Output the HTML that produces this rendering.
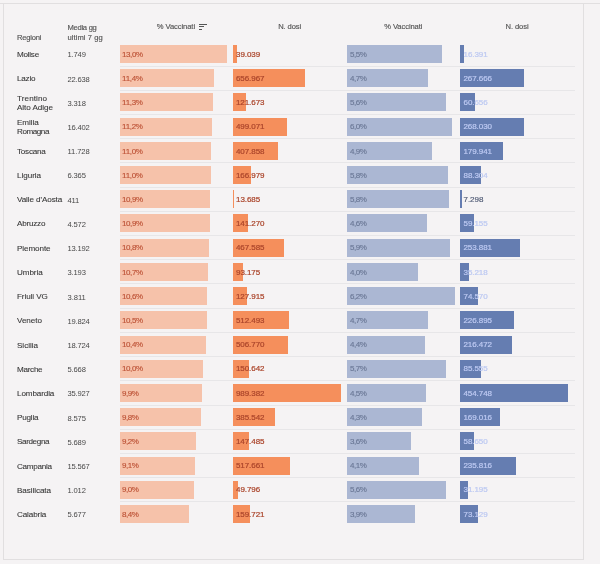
<!DOCTYPE html>
<html><head><meta charset="utf-8"><title>Vaccinazioni per regione</title>
<style>
html,body{margin:0;padding:0}
body{width:600px;height:564px;background:#f5f3f4;position:relative;overflow:hidden;font-family:"Liberation Sans",sans-serif;}
.frame{position:absolute;left:3px;top:3px;width:581px;height:557px;border:1px solid #e1dfe0;box-sizing:border-box}
.topline{position:absolute;left:0;top:3px;width:600px;height:1px;background:#e1dfe0}
.t{position:absolute;white-space:nowrap;line-height:10px;}
.h{font-size:7.6px;color:#555;-webkit-text-stroke:0.15px #555}
.r{font-size:8.1px;color:#383838;-webkit-text-stroke:0.1px #383838}
.m{font-size:7.6px;color:#484848}
.l{font-size:8.0px;}
.b{position:absolute;height:18.0px}
.b1{background:#f6c2aa}.b2{background:#f58f5c}.b3{background:#abb7d3}.b4{background:#657db1}
.l1{color:#bd5236;-webkit-text-stroke:0.15px #bd5236}.l2{color:#ab452b;-webkit-text-stroke:0.22px #ab452b}.l3{color:#6b7896;-webkit-text-stroke:0.15px #6b7896}.l4{color:#bdc9f2;-webkit-text-stroke:0.22px #bdc9f2}.l4d{color:#4d5873;-webkit-text-stroke:0.15px #4d5873}
.s{position:absolute;left:119.5px;width:455.5px;height:1px;background:#e7e6e8}
.ic{position:absolute;background:#555;height:1px}
</style></head><body>
<div class="frame"></div><div class="topline"></div>

<div class="s" style="top:65.60px"></div>
<div class="s" style="top:89.81px"></div>
<div class="s" style="top:114.02px"></div>
<div class="s" style="top:138.23px"></div>
<div class="s" style="top:162.44px"></div>
<div class="s" style="top:186.65px"></div>
<div class="s" style="top:210.86px"></div>
<div class="s" style="top:235.07px"></div>
<div class="s" style="top:259.28px"></div>
<div class="s" style="top:283.49px"></div>
<div class="s" style="top:307.70px"></div>
<div class="s" style="top:331.91px"></div>
<div class="s" style="top:356.12px"></div>
<div class="s" style="top:380.33px"></div>
<div class="s" style="top:404.54px"></div>
<div class="s" style="top:428.75px"></div>
<div class="s" style="top:452.96px"></div>
<div class="s" style="top:477.17px"></div>
<div class="s" style="top:501.38px"></div>
<div class="b b1" style="left:120.0px;top:45.00px;width:107.25px"></div>
<div class="b b2" style="left:233.0px;top:45.00px;width:4.26px"></div>
<div class="b b3" style="left:347.0px;top:45.00px;width:94.75px"></div>
<div class="b b4" style="left:460.3px;top:45.00px;width:3.88px"></div>
<div class="b b1" style="left:120.0px;top:69.21px;width:94.05px"></div>
<div class="b b2" style="left:233.0px;top:69.21px;width:71.71px"></div>
<div class="b b3" style="left:347.0px;top:69.21px;width:80.75px"></div>
<div class="b b4" style="left:460.3px;top:69.21px;width:63.42px"></div>
<div class="b b1" style="left:120.0px;top:93.42px;width:93.23px"></div>
<div class="b b2" style="left:233.0px;top:93.42px;width:13.28px"></div>
<div class="b b3" style="left:347.0px;top:93.42px;width:98.50px"></div>
<div class="b b4" style="left:460.3px;top:93.42px;width:14.37px"></div>
<div class="b b1" style="left:120.0px;top:117.63px;width:92.40px"></div>
<div class="b b2" style="left:233.0px;top:117.63px;width:54.48px"></div>
<div class="b b3" style="left:347.0px;top:117.63px;width:104.75px"></div>
<div class="b b4" style="left:460.3px;top:117.63px;width:63.51px"></div>
<div class="b b1" style="left:120.0px;top:141.84px;width:90.75px"></div>
<div class="b b2" style="left:233.0px;top:141.84px;width:44.52px"></div>
<div class="b b3" style="left:347.0px;top:141.84px;width:85.00px"></div>
<div class="b b4" style="left:460.3px;top:141.84px;width:42.64px"></div>
<div class="b b1" style="left:120.0px;top:166.05px;width:90.75px"></div>
<div class="b b2" style="left:233.0px;top:166.05px;width:18.23px"></div>
<div class="b b3" style="left:347.0px;top:166.05px;width:101.25px"></div>
<div class="b b4" style="left:460.3px;top:166.05px;width:20.92px"></div>
<div class="b b1" style="left:120.0px;top:190.26px;width:89.92px"></div>
<div class="b b2" style="left:233.0px;top:190.26px;width:1.49px"></div>
<div class="b b3" style="left:347.0px;top:190.26px;width:102.25px"></div>
<div class="b b4" style="left:460.3px;top:190.26px;width:1.73px"></div>
<div class="b b1" style="left:120.0px;top:214.47px;width:89.92px"></div>
<div class="b b2" style="left:233.0px;top:214.47px;width:15.42px"></div>
<div class="b b3" style="left:347.0px;top:214.47px;width:79.50px"></div>
<div class="b b4" style="left:460.3px;top:214.47px;width:14.02px"></div>
<div class="b b1" style="left:120.0px;top:238.68px;width:89.10px"></div>
<div class="b b2" style="left:233.0px;top:238.68px;width:51.04px"></div>
<div class="b b3" style="left:347.0px;top:238.68px;width:103.00px"></div>
<div class="b b4" style="left:460.3px;top:238.68px;width:60.16px"></div>
<div class="b b1" style="left:120.0px;top:262.89px;width:88.27px"></div>
<div class="b b2" style="left:233.0px;top:262.89px;width:10.17px"></div>
<div class="b b3" style="left:347.0px;top:262.89px;width:70.50px"></div>
<div class="b b4" style="left:460.3px;top:262.89px;width:8.34px"></div>
<div class="b b1" style="left:120.0px;top:287.10px;width:87.45px"></div>
<div class="b b2" style="left:233.0px;top:287.10px;width:13.96px"></div>
<div class="b b3" style="left:347.0px;top:287.10px;width:108.00px"></div>
<div class="b b4" style="left:460.3px;top:287.10px;width:17.67px"></div>
<div class="b b1" style="left:120.0px;top:311.31px;width:86.62px"></div>
<div class="b b2" style="left:233.0px;top:311.31px;width:55.94px"></div>
<div class="b b3" style="left:347.0px;top:311.31px;width:81.00px"></div>
<div class="b b4" style="left:460.3px;top:311.31px;width:53.76px"></div>
<div class="b b1" style="left:120.0px;top:335.52px;width:85.80px"></div>
<div class="b b2" style="left:233.0px;top:335.52px;width:55.32px"></div>
<div class="b b3" style="left:347.0px;top:335.52px;width:77.50px"></div>
<div class="b b4" style="left:460.3px;top:335.52px;width:51.29px"></div>
<div class="b b1" style="left:120.0px;top:359.73px;width:82.50px"></div>
<div class="b b2" style="left:233.0px;top:359.73px;width:16.44px"></div>
<div class="b b3" style="left:347.0px;top:359.73px;width:99.25px"></div>
<div class="b b4" style="left:460.3px;top:359.73px;width:20.27px"></div>
<div class="b b1" style="left:120.0px;top:383.94px;width:81.67px"></div>
<div class="b b2" style="left:233.0px;top:383.94px;width:108.00px"></div>
<div class="b b3" style="left:347.0px;top:383.94px;width:79.00px"></div>
<div class="b b4" style="left:460.3px;top:383.94px;width:107.75px"></div>
<div class="b b1" style="left:120.0px;top:408.15px;width:80.85px"></div>
<div class="b b2" style="left:233.0px;top:408.15px;width:42.09px"></div>
<div class="b b3" style="left:347.0px;top:408.15px;width:74.75px"></div>
<div class="b b4" style="left:460.3px;top:408.15px;width:40.05px"></div>
<div class="b b1" style="left:120.0px;top:432.36px;width:75.90px"></div>
<div class="b b2" style="left:233.0px;top:432.36px;width:16.10px"></div>
<div class="b b3" style="left:347.0px;top:432.36px;width:63.50px"></div>
<div class="b b4" style="left:460.3px;top:432.36px;width:13.90px"></div>
<div class="b b1" style="left:120.0px;top:456.57px;width:75.08px"></div>
<div class="b b2" style="left:233.0px;top:456.57px;width:56.51px"></div>
<div class="b b3" style="left:347.0px;top:456.57px;width:72.00px"></div>
<div class="b b4" style="left:460.3px;top:456.57px;width:55.88px"></div>
<div class="b b1" style="left:120.0px;top:480.78px;width:74.25px"></div>
<div class="b b2" style="left:233.0px;top:480.78px;width:5.44px"></div>
<div class="b b3" style="left:347.0px;top:480.78px;width:98.50px"></div>
<div class="b b4" style="left:460.3px;top:480.78px;width:7.39px"></div>
<div class="b b1" style="left:120.0px;top:504.99px;width:69.30px"></div>
<div class="b b2" style="left:233.0px;top:504.99px;width:17.43px"></div>
<div class="b b3" style="left:347.0px;top:504.99px;width:67.75px"></div>
<div class="b b4" style="left:460.3px;top:504.99px;width:17.33px"></div>
<div class="ic" style="left:199px;top:23.5px;width:8px"></div>
<div class="ic" style="left:199px;top:26.3px;width:5.2px"></div>
<div class="ic" style="left:199px;top:29.1px;width:2.6px"></div>
<div class="t h" style="left:17px;top:32.60px;letter-spacing:-0.209px">Regioni</div>
<div class="t h" style="left:67.5px;top:22.80px;letter-spacing:-0.273px">Media gg</div>
<div class="t h" style="left:67.5px;top:32.60px;letter-spacing:0.061px">ultimi 7 gg</div>
<div class="t h" style="left:156.8px;top:21.80px;letter-spacing:-0.082px">% Vaccinati</div>
<div class="t h" style="left:278.2px;top:21.80px;letter-spacing:-0.110px">N. dosi</div>
<div class="t h" style="left:384.2px;top:21.80px;letter-spacing:-0.082px">% Vaccinati</div>
<div class="t h" style="left:505.6px;top:21.80px;letter-spacing:-0.110px">N. dosi</div>
<div class="t r" style="left:17px;top:50.00px;letter-spacing:-0.243px">Molise</div>
<div class="t m" style="left:67.5px;top:50.40px;letter-spacing:-0.155px">1.749</div>
<div class="t l l1" style="left:122.1px;top:49.70px;letter-spacing:-0.434px">13,0%</div>
<div class="t l l2" style="left:236.0px;top:49.70px;letter-spacing:-0.056px">39.039</div>
<div class="t l l3" style="left:350.0px;top:49.70px;letter-spacing:-0.488px">5,5%</div>
<div class="t l l4" style="left:463.5px;top:49.70px;letter-spacing:-0.056px">16.391</div>
<div class="t r" style="left:17px;top:74.21px;letter-spacing:-0.192px">Lazio</div>
<div class="t m" style="left:67.5px;top:74.61px;letter-spacing:-0.187px">22.638</div>
<div class="t l l1" style="left:122.1px;top:73.91px;letter-spacing:-0.315px">11,4%</div>
<div class="t l l2" style="left:236.0px;top:73.91px;letter-spacing:-0.078px">656.967</div>
<div class="t l l3" style="left:350.0px;top:73.91px;letter-spacing:-0.488px">4,7%</div>
<div class="t l l4" style="left:463.5px;top:73.91px;letter-spacing:-0.078px">267.666</div>
<div class="t r" style="left:17px;top:94.02px;letter-spacing:0.103px">Trentino</div>
<div class="t r" style="left:17px;top:102.82px;letter-spacing:-0.057px">Alto Adige</div>
<div class="t m" style="left:67.5px;top:98.82px;letter-spacing:-0.155px">3.318</div>
<div class="t l l1" style="left:122.1px;top:98.12px;letter-spacing:-0.315px">11,3%</div>
<div class="t l l2" style="left:236.0px;top:98.12px;letter-spacing:-0.078px">121.673</div>
<div class="t l l3" style="left:350.0px;top:98.12px;letter-spacing:-0.488px">5,6%</div>
<div class="t l l4" style="left:463.5px;top:98.12px;letter-spacing:-0.056px">60.656</div>
<div class="t r" style="left:17px;top:118.23px;letter-spacing:-0.044px">Emilia</div>
<div class="t r" style="left:17px;top:127.03px;letter-spacing:-0.446px">Romagna</div>
<div class="t m" style="left:67.5px;top:123.03px;letter-spacing:-0.187px">16.402</div>
<div class="t l l1" style="left:122.1px;top:122.33px;letter-spacing:-0.315px">11,2%</div>
<div class="t l l2" style="left:236.0px;top:122.33px;letter-spacing:-0.078px">499.071</div>
<div class="t l l3" style="left:350.0px;top:122.33px;letter-spacing:-0.488px">6,0%</div>
<div class="t l l4" style="left:463.5px;top:122.33px;letter-spacing:-0.078px">268.030</div>
<div class="t r" style="left:17px;top:146.84px;letter-spacing:-0.228px">Toscana</div>
<div class="t m" style="left:67.5px;top:147.24px;letter-spacing:-0.093px">11.728</div>
<div class="t l l1" style="left:122.1px;top:146.54px;letter-spacing:-0.315px">11,0%</div>
<div class="t l l2" style="left:236.0px;top:146.54px;letter-spacing:-0.078px">407.858</div>
<div class="t l l3" style="left:350.0px;top:146.54px;letter-spacing:-0.488px">4,9%</div>
<div class="t l l4" style="left:463.5px;top:146.54px;letter-spacing:-0.078px">179.941</div>
<div class="t r" style="left:17px;top:171.05px;letter-spacing:-0.042px">Liguria</div>
<div class="t m" style="left:67.5px;top:171.45px;letter-spacing:-0.155px">6.365</div>
<div class="t l l1" style="left:122.1px;top:170.75px;letter-spacing:-0.315px">11,0%</div>
<div class="t l l2" style="left:236.0px;top:170.75px;letter-spacing:-0.078px">166.979</div>
<div class="t l l3" style="left:350.0px;top:170.75px;letter-spacing:-0.488px">5,8%</div>
<div class="t l l4" style="left:463.5px;top:170.75px;letter-spacing:-0.056px">88.304</div>
<div class="t r" style="left:17px;top:195.26px;letter-spacing:-0.094px">Valle d'Aosta</div>
<div class="t m" style="left:67.5px;top:195.66px;letter-spacing:-0.158px">411</div>
<div class="t l l1" style="left:122.1px;top:194.96px;letter-spacing:-0.434px">10,9%</div>
<div class="t l l2" style="left:236.0px;top:194.96px;letter-spacing:-0.056px">13.685</div>
<div class="t l l3" style="left:350.0px;top:194.96px;letter-spacing:-0.488px">5,8%</div>
<div class="t l l4d" style="left:463.5px;top:194.96px;letter-spacing:-0.024px">7.298</div>
<div class="t r" style="left:17px;top:219.47px;letter-spacing:-0.214px">Abruzzo</div>
<div class="t m" style="left:67.5px;top:219.87px;letter-spacing:-0.155px">4.572</div>
<div class="t l l1" style="left:122.1px;top:219.17px;letter-spacing:-0.434px">10,9%</div>
<div class="t l l2" style="left:236.0px;top:219.17px;letter-spacing:-0.078px">141.270</div>
<div class="t l l3" style="left:350.0px;top:219.17px;letter-spacing:-0.488px">4,6%</div>
<div class="t l l4" style="left:463.5px;top:219.17px;letter-spacing:-0.056px">59.155</div>
<div class="t r" style="left:17px;top:243.68px;letter-spacing:-0.085px">Piemonte</div>
<div class="t m" style="left:67.5px;top:244.08px;letter-spacing:-0.187px">13.192</div>
<div class="t l l1" style="left:122.1px;top:243.38px;letter-spacing:-0.434px">10,8%</div>
<div class="t l l2" style="left:236.0px;top:243.38px;letter-spacing:-0.078px">467.585</div>
<div class="t l l3" style="left:350.0px;top:243.38px;letter-spacing:-0.488px">5,9%</div>
<div class="t l l4" style="left:463.5px;top:243.38px;letter-spacing:-0.078px">253.881</div>
<div class="t r" style="left:17px;top:267.89px;letter-spacing:-0.089px">Umbria</div>
<div class="t m" style="left:67.5px;top:268.29px;letter-spacing:-0.155px">3.193</div>
<div class="t l l1" style="left:122.1px;top:267.59px;letter-spacing:-0.434px">10,7%</div>
<div class="t l l2" style="left:236.0px;top:267.59px;letter-spacing:-0.056px">93.175</div>
<div class="t l l3" style="left:350.0px;top:267.59px;letter-spacing:-0.488px">4,0%</div>
<div class="t l l4" style="left:463.5px;top:267.59px;letter-spacing:-0.056px">35.218</div>
<div class="t r" style="left:17px;top:292.10px;letter-spacing:-0.084px">Friuli VG</div>
<div class="t m" style="left:67.5px;top:292.50px;letter-spacing:-0.043px">3.811</div>
<div class="t l l1" style="left:122.1px;top:291.80px;letter-spacing:-0.434px">10,6%</div>
<div class="t l l2" style="left:236.0px;top:291.80px;letter-spacing:-0.078px">127.915</div>
<div class="t l l3" style="left:350.0px;top:291.80px;letter-spacing:-0.488px">6,2%</div>
<div class="t l l4" style="left:463.5px;top:291.80px;letter-spacing:-0.056px">74.570</div>
<div class="t r" style="left:17px;top:316.31px;letter-spacing:-0.046px">Veneto</div>
<div class="t m" style="left:67.5px;top:316.71px;letter-spacing:-0.187px">19.824</div>
<div class="t l l1" style="left:122.1px;top:316.01px;letter-spacing:-0.434px">10,5%</div>
<div class="t l l2" style="left:236.0px;top:316.01px;letter-spacing:-0.078px">512.493</div>
<div class="t l l3" style="left:350.0px;top:316.01px;letter-spacing:-0.488px">4,7%</div>
<div class="t l l4" style="left:463.5px;top:316.01px;letter-spacing:-0.078px">226.895</div>
<div class="t r" style="left:17px;top:340.52px;letter-spacing:-0.028px">Sicilia</div>
<div class="t m" style="left:67.5px;top:340.92px;letter-spacing:-0.187px">18.724</div>
<div class="t l l1" style="left:122.1px;top:340.22px;letter-spacing:-0.434px">10,4%</div>
<div class="t l l2" style="left:236.0px;top:340.22px;letter-spacing:-0.078px">506.770</div>
<div class="t l l3" style="left:350.0px;top:340.22px;letter-spacing:-0.488px">4,4%</div>
<div class="t l l4" style="left:463.5px;top:340.22px;letter-spacing:-0.078px">216.472</div>
<div class="t r" style="left:17px;top:364.73px;letter-spacing:-0.273px">Marche</div>
<div class="t m" style="left:67.5px;top:365.13px;letter-spacing:-0.155px">5.668</div>
<div class="t l l1" style="left:122.1px;top:364.43px;letter-spacing:-0.434px">10,0%</div>
<div class="t l l2" style="left:236.0px;top:364.43px;letter-spacing:-0.078px">150.642</div>
<div class="t l l3" style="left:350.0px;top:364.43px;letter-spacing:-0.488px">5,7%</div>
<div class="t l l4" style="left:463.5px;top:364.43px;letter-spacing:-0.056px">85.555</div>
<div class="t r" style="left:17px;top:388.94px;letter-spacing:-0.114px">Lombardia</div>
<div class="t m" style="left:67.5px;top:389.34px;letter-spacing:-0.187px">35.927</div>
<div class="t l l1" style="left:122.1px;top:388.64px;letter-spacing:-0.488px">9,9%</div>
<div class="t l l2" style="left:236.0px;top:388.64px;letter-spacing:-0.078px">989.382</div>
<div class="t l l3" style="left:350.0px;top:388.64px;letter-spacing:-0.488px">4,5%</div>
<div class="t l l4" style="left:463.5px;top:388.64px;letter-spacing:-0.078px">454.748</div>
<div class="t r" style="left:17px;top:413.15px;letter-spacing:-0.180px">Puglia</div>
<div class="t m" style="left:67.5px;top:413.55px;letter-spacing:-0.155px">8.575</div>
<div class="t l l1" style="left:122.1px;top:412.85px;letter-spacing:-0.488px">9,8%</div>
<div class="t l l2" style="left:236.0px;top:412.85px;letter-spacing:-0.078px">385.542</div>
<div class="t l l3" style="left:350.0px;top:412.85px;letter-spacing:-0.488px">4,3%</div>
<div class="t l l4" style="left:463.5px;top:412.85px;letter-spacing:-0.078px">169.016</div>
<div class="t r" style="left:17px;top:437.36px;letter-spacing:-0.369px">Sardegna</div>
<div class="t m" style="left:67.5px;top:437.76px;letter-spacing:-0.155px">5.689</div>
<div class="t l l1" style="left:122.1px;top:437.06px;letter-spacing:-0.488px">9,2%</div>
<div class="t l l2" style="left:236.0px;top:437.06px;letter-spacing:-0.078px">147.485</div>
<div class="t l l3" style="left:350.0px;top:437.06px;letter-spacing:-0.488px">3,6%</div>
<div class="t l l4" style="left:463.5px;top:437.06px;letter-spacing:-0.056px">58.650</div>
<div class="t r" style="left:17px;top:461.57px;letter-spacing:-0.275px">Campania</div>
<div class="t m" style="left:67.5px;top:461.97px;letter-spacing:-0.187px">15.567</div>
<div class="t l l1" style="left:122.1px;top:461.27px;letter-spacing:-0.488px">9,1%</div>
<div class="t l l2" style="left:236.0px;top:461.27px;letter-spacing:-0.078px">517.661</div>
<div class="t l l3" style="left:350.0px;top:461.27px;letter-spacing:-0.488px">4,1%</div>
<div class="t l l4" style="left:463.5px;top:461.27px;letter-spacing:-0.078px">235.816</div>
<div class="t r" style="left:17px;top:485.78px;letter-spacing:-0.065px">Basilicata</div>
<div class="t m" style="left:67.5px;top:486.18px;letter-spacing:-0.155px">1.012</div>
<div class="t l l1" style="left:122.1px;top:485.48px;letter-spacing:-0.488px">9,0%</div>
<div class="t l l2" style="left:236.0px;top:485.48px;letter-spacing:-0.056px">49.796</div>
<div class="t l l3" style="left:350.0px;top:485.48px;letter-spacing:-0.488px">5,6%</div>
<div class="t l l4" style="left:463.5px;top:485.48px;letter-spacing:-0.056px">31.195</div>
<div class="t r" style="left:17px;top:509.99px;letter-spacing:-0.115px">Calabria</div>
<div class="t m" style="left:67.5px;top:510.39px;letter-spacing:-0.155px">5.677</div>
<div class="t l l1" style="left:122.1px;top:509.69px;letter-spacing:-0.488px">8,4%</div>
<div class="t l l2" style="left:236.0px;top:509.69px;letter-spacing:-0.078px">159.721</div>
<div class="t l l3" style="left:350.0px;top:509.69px;letter-spacing:-0.488px">3,9%</div>
<div class="t l l4" style="left:463.5px;top:509.69px;letter-spacing:-0.056px">73.129</div>
</body></html>
